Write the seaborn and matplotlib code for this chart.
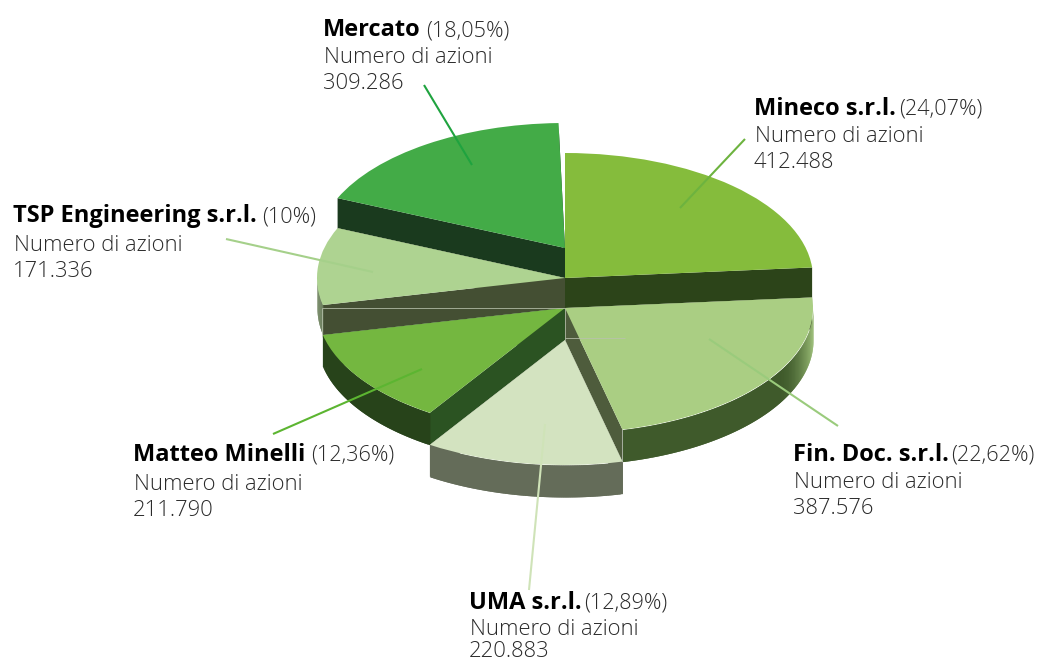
import numpy as np
import matplotlib
matplotlib.use("Agg")
import matplotlib.pyplot as plt
import matplotlib.colors as mc
import seaborn as sns

# ---- data ----
names = ["Mineco s.r.l.", "Fin. Doc. s.r.l.", "UMA s.r.l.", "Matteo Minelli", "TSP Engineering s.r.l.", "Mercato"]
pct_labels = ["(24,07%)", "(22,62%)", "(12,89%)", "(12,36%)", "(10%)", "(18,05%)"]
shares = [24.07, 22.62, 12.89, 12.36, 10.0, 18.05]
share_counts = ["412.488", "387.576", "220.883", "211.790", "171.336", "309.286"]
sub_label = "Numero di azioni"

# ---- styles ----
top_colors = ["#85bc3c", "#aace83", "#d3e3c0", "#74b740", "#aed391", "#43ab47"]
cut_colors = ["#2c4419", "#4e5c3c", "#646c59", "#2b5322", "#444f33", "#1a3a1e"]
rim_colors = ["#2c4419", "#3f5a2b", "#646c59", "#27431a", "#55644a", "#1a3a1e"]
rim_fade = [0.0, 0.85, 0.0, 0.0, 0.3, 0.0]
line_colors = ["#6db33f", "#9acb7c", "#cfe3b8", "#5cb531", "#a5d08a", "#1fa33f"]

# ---- layout (pixels of the 1038x662 canvas) ----
W, H = 1038, 662
CX, CY, RX, RY = 565, 308, 248, 125
START = 91.5
FIRST_EDGE = 90.0  # the first slice is trimmed to the vertical, leaving the small notch
lift_px = [30, 0, -32, 0, 30, 60]
depth_px = [30, 32, 32, 32, 30, 30]
draw_order = [5, 0, 4, 1, 3, 2]
text_x = [754, 793, 469, 133, 13, 323]
paren_x = [899, 951, 584, 311, 262, 426]
base_y = [[115, 142, 168], [461, 488, 514], [609, 635, 657],
          [461, 490, 516], [222, 251, 277], [36, 63, 89]]
lead_from = [(745, 139), (838, 426), (529, 590), (273, 434), (226, 239), (424, 85)]
lead_to = [(680, 208), (709, 339), (545, 424), (422, 369), (373, 272), (472, 165)]
seams = [((322, 308), (565, 308)), ((322, 308), (322, 337)), ((565, 308), (565, 340)),
         ((565, 338), (625, 338))]

sns.set_theme(style="white")
plt.rcParams["font.family"] = ["Open Sans", "DejaVu Sans"]

fig = plt.figure(figsize=(W / 100, H / 100), dpi=100, facecolor="white")
ax = fig.add_axes([0, 0, 1, 1])

total = sum(shares)
edges = START - 360 * np.concatenate([[0], np.cumsum(shares)]) / total
edges[0] = FIRST_EDGE


def top_face(i, dy):
    wedges, _ = ax.pie(shares, colors=[top_colors[i]] * len(shares), startangle=START, counterclock=False,
                       center=(0, dy), radius=1, wedgeprops={"linewidth": 0})
    for j, w in enumerate(wedges):
        if j != i:
            w.remove()
    if i == 0:
        wedges[i].set_theta2(FIRST_EDGE)


for i in draw_order:
    lift = lift_px[i] / RY
    depth = depth_px[i] / RY
    a0, a1 = edges[i], edges[i + 1]
    # the two cut faces
    for a in (a0, a1):
        c, s = np.cos(np.radians(a)), np.sin(np.radians(a))
        ax.fill([0, c, c, 0], [lift, lift + s, lift + s - depth, lift - depth],
                color=cut_colors[i], linewidth=0)
    # outer rim, only where the arc faces the viewer
    th = np.radians(np.linspace(min(a0, 0), a1, 90))
    th = th[np.sin(th) < 0.0005]
    base = np.array(mc.to_rgb(rim_colors[i]))
    light = np.array(mc.to_rgb(top_colors[i]))
    for k in range(len(th) - 1):
        seg = th[k:min(k + 3, len(th))]
        x = np.cos(seg)
        mix = rim_fade[i] * np.clip((abs(x[0]) - 0.86) / 0.14, 0, 1) ** 2
        ax.fill_between(x, lift + np.sin(seg) - depth, lift + np.sin(seg),
                        color=tuple(base * (1 - mix) + light * mix), linewidth=0)
    top_face(i, lift)

ax.set_aspect("auto")
ax.set_xlim((0 - CX) / RX, (W - CX) / RX)
ax.set_ylim((CY - H) / RY, CY / RY)
ax.axis("off")

# overlay in canvas pixels for leaders and labels
ov = fig.add_axes([0, 0, 1, 1], facecolor="none")
ov.set_xlim(0, W)
ov.set_ylim(H, 0)
ov.axis("off")

for p, q in seams:
    ov.plot([p[0], q[0]], [p[1], q[1]], color="#b9c2ad", lw=0.7, alpha=0.8, solid_capstyle="butt")

for p, q, c in zip(lead_from, lead_to, line_colors):
    ov.plot([p[0], q[0]], [p[1], q[1]], color=c, lw=1.5, solid_capstyle="butt")

ink = "#2a2a2a"
for i in range(len(names)):
    y0, y1, y2 = base_y[i]
    ov.text(text_x[i], y0, names[i], fontsize=17, fontweight="bold", color="black", va="baseline")
    ov.text(paren_x[i], y0, pct_labels[i], fontsize=15.6, fontweight="light", color=ink, va="baseline")
    ov.text(text_x[i] + 1, y1, sub_label, fontsize=15.8, fontweight="light", color=ink, va="baseline")
    ov.text(text_x[i], y2, share_counts[i], fontsize=15.8, fontweight="light", color=ink, va="baseline")

sns.despine(ax=ov, left=True, bottom=True)
fig.savefig("out.png", dpi=100, facecolor="white")
